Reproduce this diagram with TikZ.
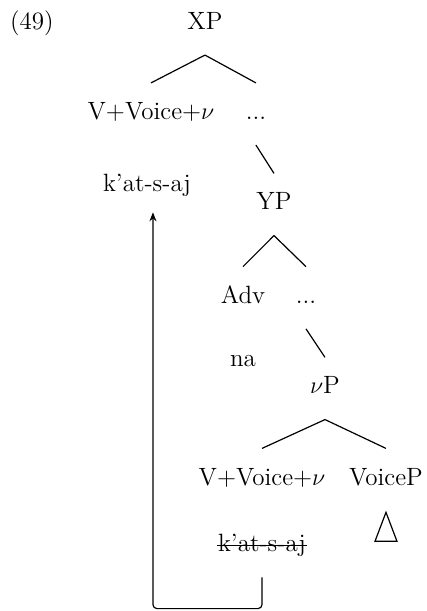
\documentclass[tikz,border=0pt]{standalone}
\usetikzlibrary{calc,
arrows.meta,
positioning}

\begin{document}
\begin{tikzpicture} [-,
  >={Stealth[width = 3.5pt, length = 4.5pt]},
  line width = .6pt,
  tree node/.style={inner xsep = 0pt, inner ysep = 10pt,
      text height = 8pt, text depth = 2.5pt, anchor = base,
      font = \fontsize{12.5}{15}\selectfont}]

  \useasboundingbox (-3.602, 0.518) rectangle (3.901, -10.219);

  \node [tree node] (exnum) at (-3.04, 0) {(49)};
  \node [tree node] (xp) at (0, 0) {XP};

  % upper level: moved verb and the rest
  \node [tree node] (vvv) at (-0.949, -1.582) {V+Voice+$\nu$};
  \node [tree node] (dotsa) at (0.896, -1.582) {...};
  \node [tree node] (katsaj) at (-1.019, -2.850) {k'at-s-aj};

  \draw (xp.south) -- (vvv.north);
  \draw (xp.south) -- (dotsa.north);

  \node [tree node] (yp) at (1.213, -3.172) {YP};
  \draw (dotsa.south) -- (yp.north);

  \node [tree node] (adv) at (0.668, -4.811) {Adv};
  \node [tree node] (dotsb) at (1.775, -4.811) {...};
  \node [tree node] (na) at (0.668, -5.931) {na};

  \draw (yp.south) -- (adv.north);
  \draw (yp.south) -- (dotsb.north);

  \node [tree node] (vp) at (2.109, -6.405) {$\nu$P};
  \draw (dotsb.south) -- (vp.north);

  % lower level: the copy that is deleted
  \node [tree node] (vvvb) at (1.002, -8.005) {V+Voice+$\nu$};
  \node [tree node] (voicep) at (3.181, -8.005) {VoiceP};
  \node [tree node] (katsajb) at (1.002, -9.177) {k'at-s-aj};
  \draw [line width = .6pt] ($(katsajb.base west) + (0, 3.3pt)$) -- ($(katsajb.base east) + (0, 3.3pt)$);

  \draw (vp.south) -- (vvvb.north);
  \draw (vp.south) -- (voicep.north);

  % roof over VoiceP
  \draw ($(voicep.south) + (0, -.03)$) -- ++(-5.5pt, -14.5pt) -- ++(11pt, 0) -- cycle;

  % movement arrow
  \draw [->, rounded corners = 2pt] (katsajb.south) -- ++(0, -.55)
  -| ($(katsaj.south) + (.105, .087)$);

\end{tikzpicture}
\end{document}
